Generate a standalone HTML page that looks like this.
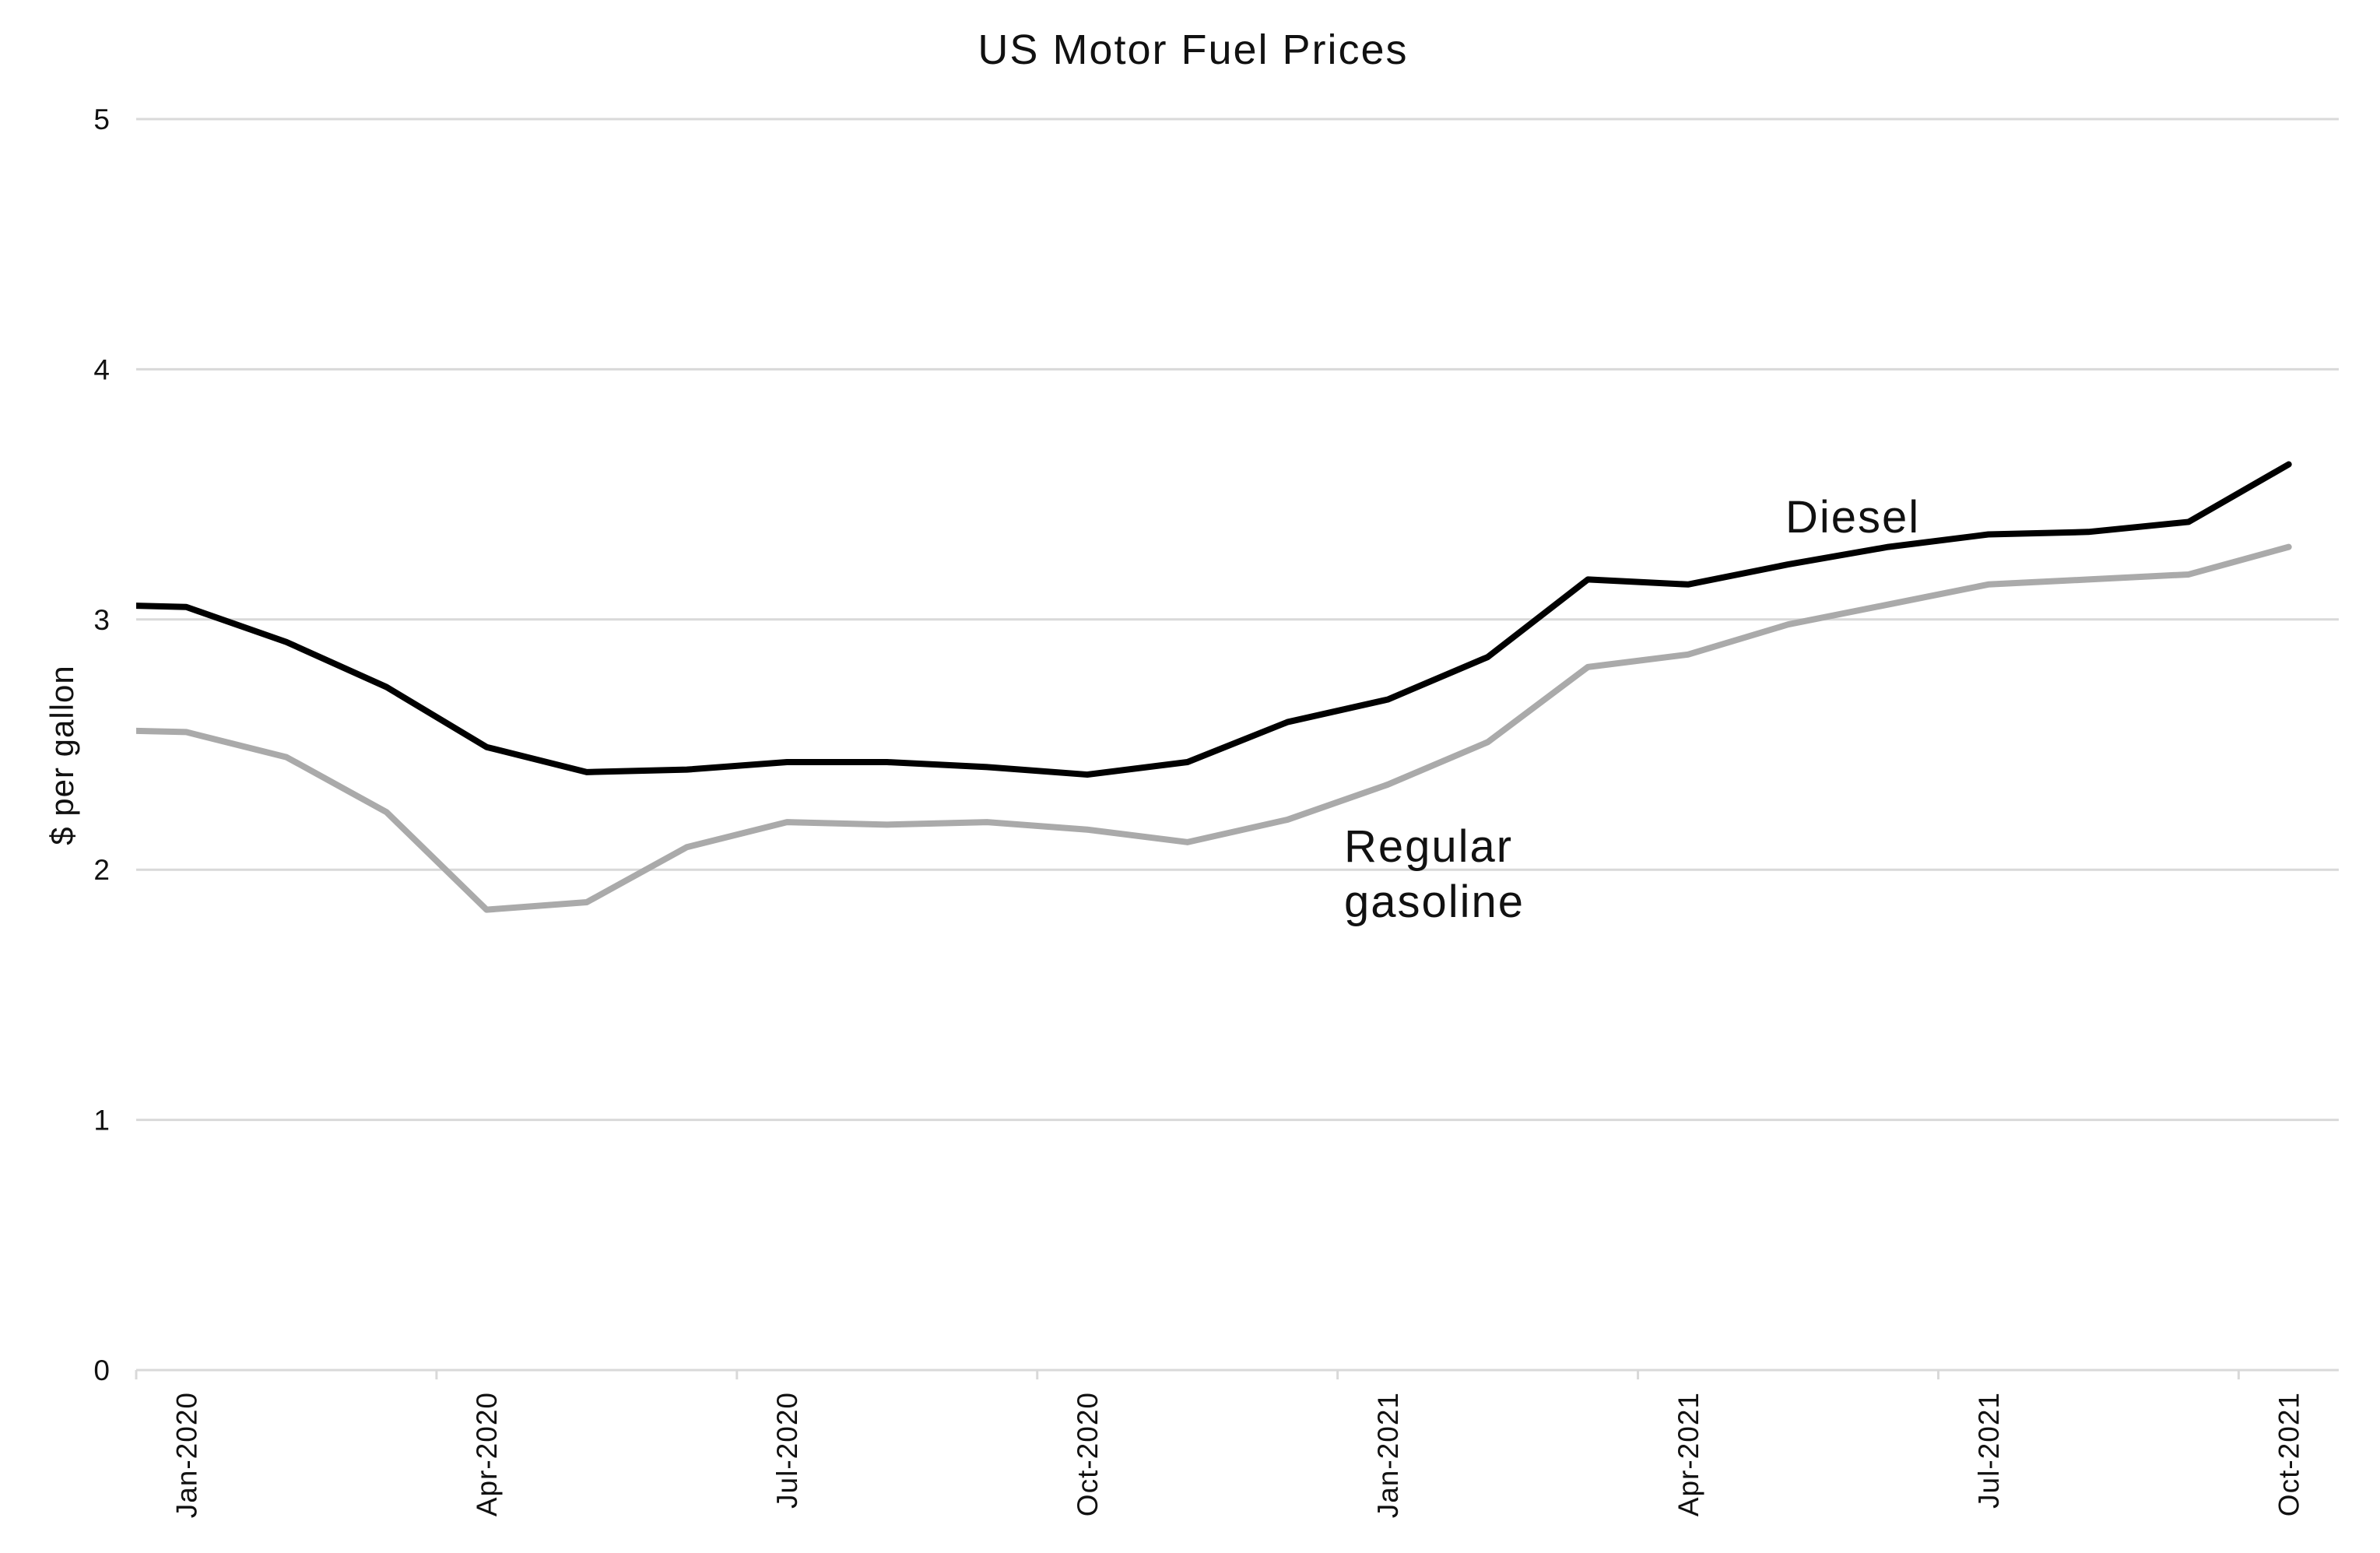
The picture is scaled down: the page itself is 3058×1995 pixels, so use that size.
<!DOCTYPE html>
<html><head><meta charset="utf-8"><style>
html,body{margin:0;padding:0;background:#fff;}
svg{display:block;font-family:"Liberation Sans",sans-serif;}
</style></head><body>
<svg id="chart" width="3058" height="1995" viewBox="0 0 3058 1995">
<text x="1533" y="82" font-size="54" letter-spacing="2" text-anchor="middle" fill="#111">US Motor Fuel Prices</text>
<text transform="translate(94,970) rotate(-90)" font-size="42" letter-spacing="1" text-anchor="middle" fill="#111">$ per gallon</text>
<g id="grid"></g><g id="yticks"></g><g id="xaxis"></g><g id="series"></g>
<text x="2294" y="684" font-size="58" letter-spacing="2" fill="#111">Diesel</text>
<text x="1727" y="1107" font-size="58" letter-spacing="2" fill="#111">Regular</text>
<text x="1727" y="1178" font-size="58" letter-spacing="2" fill="#111">gasoline</text>
</svg>
<script>
const categories = ["Jan-2020","Feb-2020","Mar-2020","Apr-2020","May-2020","Jun-2020","Jul-2020","Aug-2020","Sep-2020","Oct-2020","Nov-2020","Dec-2020","Jan-2021","Feb-2021","Mar-2021","Apr-2021","May-2021","Jun-2021","Jul-2021","Aug-2021","Sep-2021","Oct-2021"];
const dieselPrev = 3.06;
const gasolinePrev = 2.56;
const diesel = [3.05,2.91,2.73,2.49,2.39,2.40,2.43,2.43,2.41,2.38,2.43,2.59,2.68,2.85,3.16,3.14,3.22,3.29,3.34,3.35,3.39,3.62];
const gasoline = [2.55,2.45,2.23,1.84,1.87,2.09,2.19,2.18,2.19,2.16,2.11,2.20,2.34,2.51,2.81,2.86,2.98,3.06,3.14,3.16,3.18,3.29];
const yTicks = [0,1,2,3,4,5];
const xTickLabels = ["Jan-2020","Apr-2020","Jul-2020","Oct-2020","Jan-2021","Apr-2021","Jul-2021","Oct-2021"];

const NS="http://www.w3.org/2000/svg";
const L=175, R=3005, T=153, B=1760, YMAX=5;
const band=(R-L)/categories.length;
const xPos=i=>L+(i+0.5)*band;
const yPos=v=>B-(v/YMAX)*(B-T);
function mk(tag,attrs,parent){const e=document.createElementNS(NS,tag);for(const k in attrs)e.setAttribute(k,attrs[k]);parent.appendChild(e);return e;}

const grid=document.getElementById('grid'), yt=document.getElementById('yticks');
yTicks.forEach(v=>{
  if(v>0){const g=mk('line',{x1:L,x2:R,y1:yPos(v),y2:yPos(v),stroke:'#d9d9d9','stroke-width':3},grid);
  
  }
  const t=mk('text',{x:141,y:yPos(v)+13,'font-size':37,'text-anchor':'end',fill:'#111'},yt);
  t.textContent=v;
  
  
});
const xa=document.getElementById('xaxis');
const ax=mk('line',{x1:L,x2:R,y1:B,y2:B,stroke:'#d9d9d9','stroke-width':3},xa);


for(let k=0;k<categories.length;k+=3){
  const tk=mk('line',{x1:L+k*band,x2:L+k*band,y1:B,y2:B+12,stroke:'#d9d9d9','stroke-width':3},xa);
  
  
}
xTickLabels.forEach(lab=>{
  const i=categories.indexOf(lab);
  const t=mk('text',{transform:`translate(${xPos(i)+13},1788) rotate(-90)`,'font-size':37,'letter-spacing':1,'text-anchor':'end',fill:'#111'},xa);
  t.textContent=lab;
  
  
});
const s=document.getElementById('series');
const cp=mk('clipPath',{id:'clip'},s);
mk('rect',{x:L,y:0,width:R-L,height:1995},cp);
function line(vals,prev,color,w,name){
  const pts=[[xPos(-1),yPos(prev)]].concat(vals.map((v,i)=>[xPos(i),yPos(v)]));
  const p=mk('polyline',{points:pts.map(q=>q.join(',')).join(' '),fill:'none',stroke:color,'stroke-width':w,'stroke-linejoin':'round','stroke-linecap':'round','clip-path':'url(#clip)'},s);
  
  
}
line(gasoline,gasolinePrev,'#aaaaaa',8,'gasoline-line');
line(diesel,dieselPrev,'#000000',8,'diesel-line');
</script>
</body></html>
